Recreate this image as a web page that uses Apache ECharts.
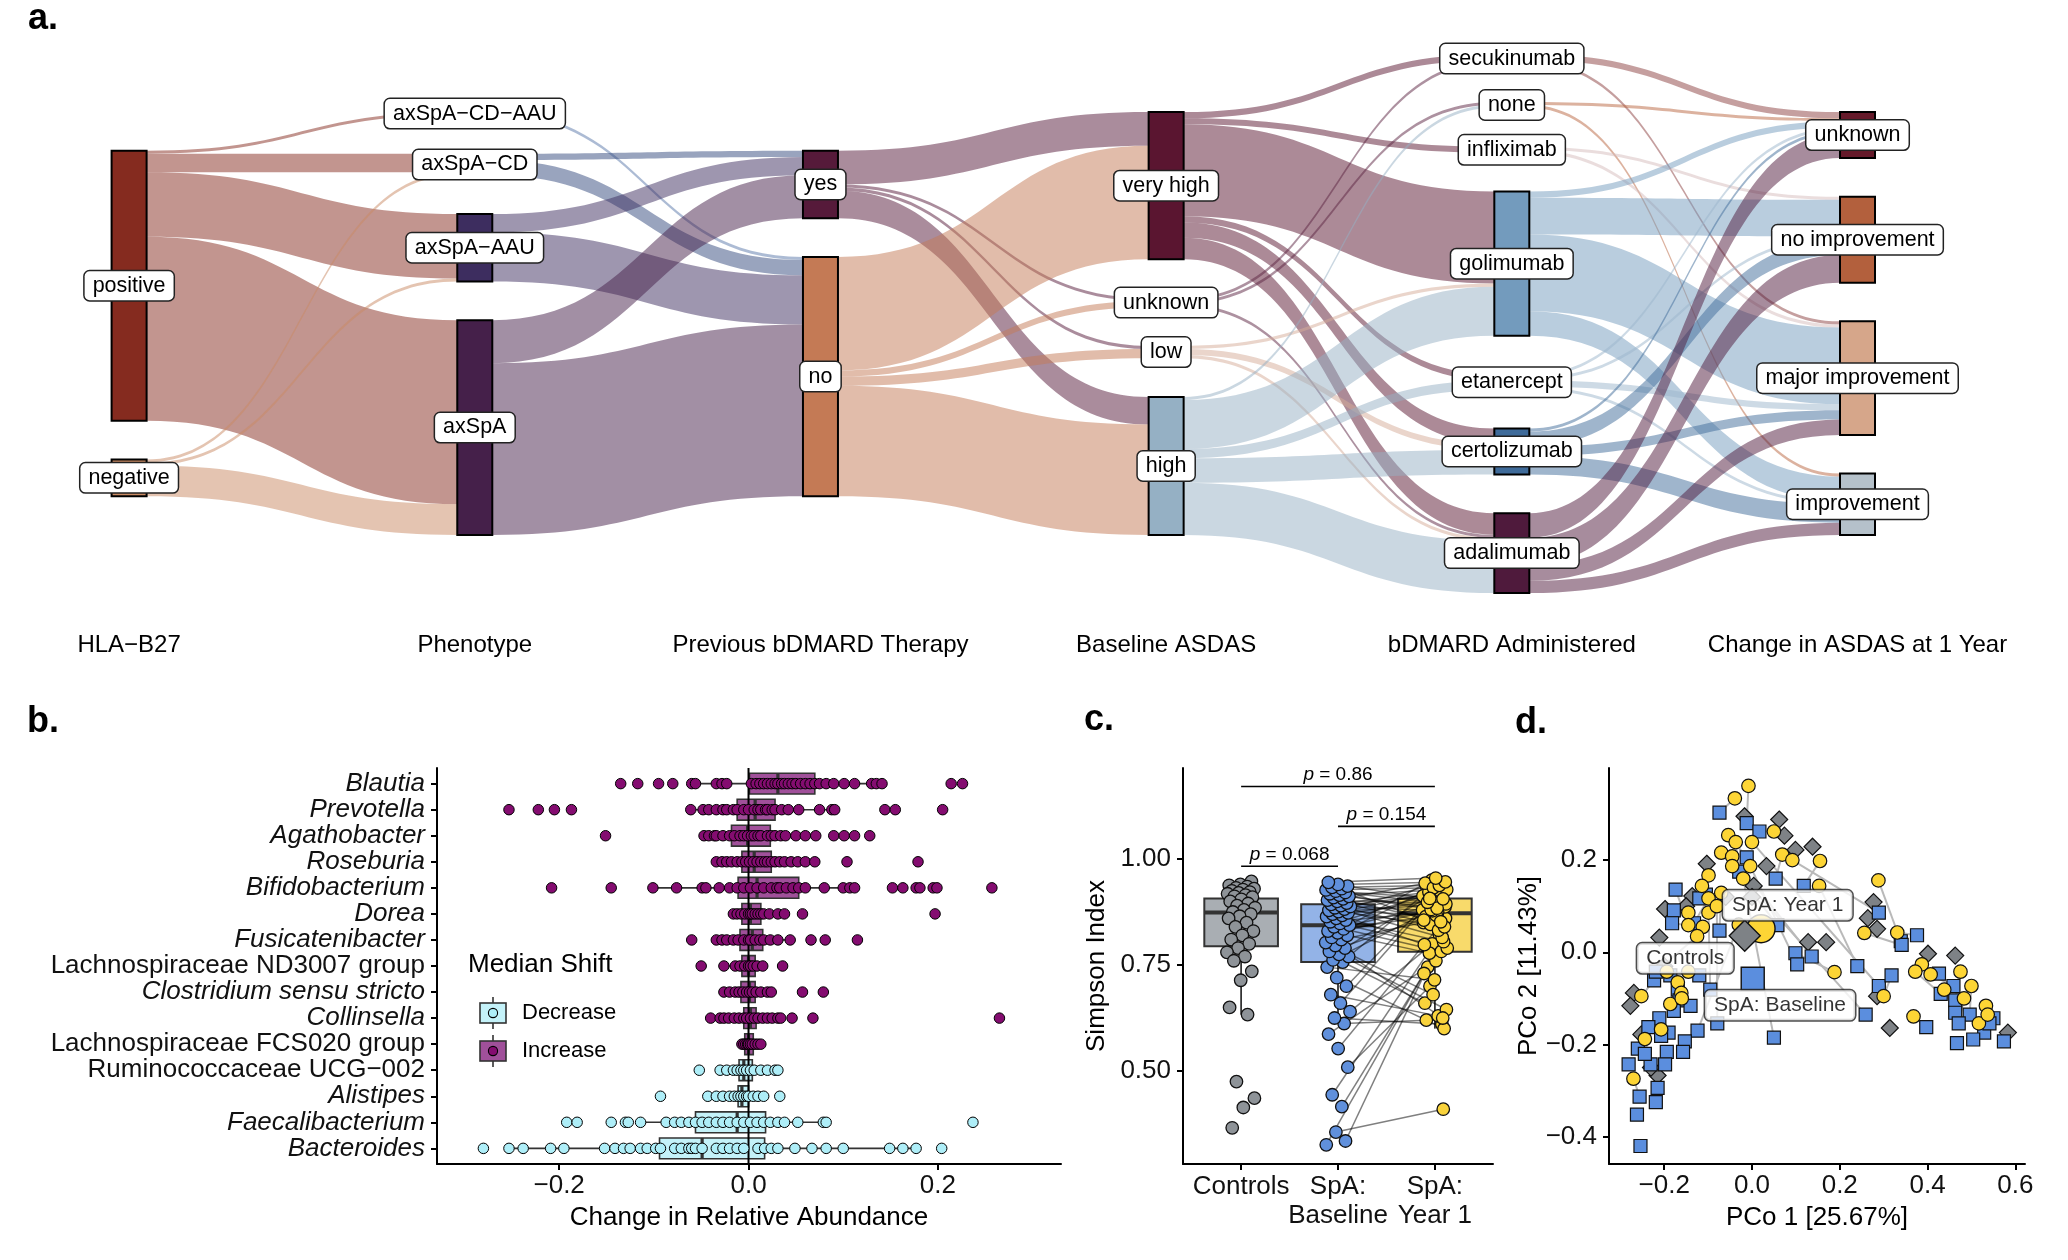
<!DOCTYPE html>
<html>
<head>
<meta charset="utf-8">
<title>Figure</title>
<script src="https://cdn.jsdelivr.net/npm/echarts@6.0.0/dist/echarts.min.js"></script>
<style>
html,body{margin:0;padding:0;background:#ffffff;}
#chart{width:2068px;height:1260px;}
</style>
</head>
<body>
<div id="chart"></div>
<script>
// ================= DATA =================
// ---- Panel a: alluvial ----
const sankeyColumnTitles = ['HLA\u2212B27','Phenotype','Previous bDMARD Therapy','Baseline ASDAS','bDMARD Administered','Change in ASDAS at 1 Year'];
const hlaB27 = ['positive','negative'];
const phenotype = ['axSpA\u2212CD\u2212AAU','axSpA\u2212CD','axSpA\u2212AAU','axSpA'];
const previousBdmard = ['yes','no'];
const baselineAsdas = ['very high','unknown','low','high'];
const bdmardAdministered = ['secukinumab','none','infliximab','golimumab','etanercept','certolizumab','adalimumab'];
const asdasChange = ['unknown','no improvement','major improvement','improvement'];

const flowsHlaToPhenotype = [
  ['positive','axSpA\u2212CD\u2212AAU',1],['positive','axSpA\u2212CD',6],['positive','axSpA\u2212AAU',21],['positive','axSpA',60],
  ['negative','axSpA\u2212CD',1],['negative','axSpA\u2212AAU',1],['negative','axSpA',10]
];
const flowsPhenotypeToPrevious = [
  ['axSpA\u2212CD\u2212AAU','no',1],['axSpA\u2212CD','yes',2],['axSpA\u2212CD','no',5],
  ['axSpA\u2212AAU','yes',6],['axSpA\u2212AAU','no',16],['axSpA','yes',14],['axSpA','no',56]
];
const flowsPreviousToBaseline = [
  ['yes','very high',11],['yes','unknown',1],['yes','low',1],['yes','high',9],
  ['no','very high',37],['no','unknown',2],['no','low',3],['no','high',36]
];
const flowsBaselineToBdmard = [
  ['very high','secukinumab',2],['very high','infliximab',2],['very high','golimumab',30],['very high','etanercept',2],['very high','certolizumab',5],['very high','adalimumab',7],
  ['unknown','secukinumab',1],['unknown','none',1],['unknown','adalimumab',1],
  ['low','golimumab',1],['low','certolizumab',2],['low','adalimumab',1],
  ['high','none',1],['high','golimumab',16],['high','etanercept',3],['high','certolizumab',8],['high','adalimumab',17]
];
const flowsBdmardToChange = [
  ['secukinumab','unknown',2],['secukinumab','major improvement',1],
  ['none','unknown',1],['none','improvement',1],
  ['infliximab','no improvement',1],['infliximab','major improvement',1],
  ['golimumab','unknown',2],['golimumab','no improvement',12],['golimumab','major improvement',25],['golimumab','improvement',8],
  ['etanercept','unknown',1],['etanercept','no improvement',1],['etanercept','major improvement',2],['etanercept','improvement',1],
  ['certolizumab','unknown',1],['certolizumab','no improvement',5],['certolizumab','major improvement',3],['certolizumab','improvement',6],
  ['adalimumab','unknown',8],['adalimumab','no improvement',9],['adalimumab','major improvement',5],['adalimumab','improvement',4]
];

// ---- Panel b: change in relative abundance ----
const taxa = ['Blautia','Prevotella','Agathobacter','Roseburia','Bifidobacterium','Dorea','Fusicatenibacter',
  'Lachnospiraceae ND3007 group','Clostridium sensu stricto','Collinsella','Lachnospiraceae FCS020 group',
  'Ruminococcaceae UCG\u2212002','Alistipes','Faecalibacterium','Bacteroides'];
const taxonIsGenus = [true,true,true,true,true,true,true,false,true,true,false,false,true,true,true];
const taxonShift = ['Increase','Increase','Increase','Increase','Increase','Increase','Increase','Increase','Increase','Increase','Increase',
  'Decrease','Decrease','Decrease','Decrease'];
// [lower whisker, Q1, median, Q3, upper whisker]
const taxonBox = [
  [-0.063, 0.001, 0.031, 0.070, 0.141],
  [-0.061, -0.012, 0.007, 0.028, 0.091],
  [-0.047, -0.018, -0.001, 0.023, 0.075],
  [-0.034, -0.007, 0.006, 0.024, 0.070],
  [-0.101, -0.011, 0.009, 0.053, 0.112],
  [-0.016, -0.007, 0.002, 0.013, 0.038],
  [-0.034, -0.009, 0.004, 0.015, 0.044],
  [-0.026, -0.007, 0.000, 0.007, 0.015],
  [-0.026, -0.008, 0.001, 0.007, 0.024],
  [-0.040, -0.005, 0.002, 0.008, 0.034],
  [-0.007, -0.004, 0.000, 0.005, 0.013],
  [-0.030, -0.010, -0.005, 0.004, 0.031],
  [-0.034, -0.011, -0.007, 0.000, 0.016],
  [-0.114, -0.056, -0.012, 0.018, 0.082],
  [-0.253, -0.094, -0.049, 0.017, 0.177]
];
const taxonChange = [
  [-0.135,-0.117,-0.095,-0.080,-0.060,-0.056,-0.034,-0.028,-0.023,0.003,0.008,0.012,0.016,0.020,0.024,0.028,0.031,0.035,0.038,0.042,0.046,0.050,0.055,0.060,0.065,0.070,0.075,0.082,0.090,0.101,0.112,0.130,0.135,0.141,0.214,0.226],
  [-0.253,-0.222,-0.205,-0.187,-0.061,-0.048,-0.042,-0.034,-0.027,-0.023,-0.016,-0.012,-0.005,0.000,0.006,0.010,0.013,0.018,0.020,0.025,0.028,0.035,0.042,0.053,0.075,0.088,0.091,0.144,0.155,0.205],
  [-0.151,-0.047,-0.042,-0.036,-0.034,-0.027,-0.020,-0.015,-0.009,-0.005,-0.001,0.003,0.006,0.010,0.013,0.020,0.024,0.028,0.034,0.039,0.050,0.060,0.071,0.090,0.101,0.112,0.128],
  [-0.034,-0.028,-0.023,-0.018,-0.012,-0.007,-0.003,0.001,0.005,0.009,0.013,0.017,0.020,0.024,0.028,0.033,0.038,0.045,0.052,0.060,0.070,0.104,0.179],
  [-0.208,-0.145,-0.101,-0.076,-0.049,-0.045,-0.031,-0.020,-0.012,-0.005,0.002,0.009,0.016,0.024,0.030,0.033,0.040,0.047,0.053,0.060,0.080,0.100,0.107,0.112,0.152,0.163,0.177,0.181,0.195,0.199,0.257],
  [-0.016,-0.012,-0.008,-0.004,0.000,0.002,0.004,0.007,0.010,0.013,0.016,0.022,0.031,0.038,0.057,0.197],
  [-0.060,-0.034,-0.028,-0.023,-0.016,-0.011,-0.005,0.000,0.002,0.007,0.012,0.016,0.023,0.031,0.044,0.066,0.081,0.115],
  [-0.050,-0.026,-0.014,-0.009,-0.004,0.000,0.002,0.005,0.009,0.015,0.036],
  [-0.026,-0.020,-0.014,-0.010,-0.006,-0.002,0.001,0.004,0.008,0.013,0.020,0.024,0.057,0.079],
  [-0.040,-0.030,-0.026,-0.021,-0.015,-0.010,-0.005,-0.002,0.002,0.006,0.010,0.015,0.020,0.025,0.031,0.034,0.046,0.068,0.265],
  [-0.007,-0.005,-0.003,-0.001,0.000,0.002,0.004,0.007,0.010,0.013],
  [-0.052,-0.030,-0.023,-0.016,-0.012,-0.008,-0.005,-0.002,0.002,0.006,0.013,0.020,0.028,0.031],
  [-0.093,-0.043,-0.034,-0.027,-0.020,-0.015,-0.011,-0.008,-0.005,-0.002,0.000,0.005,0.010,0.016,0.033],
  [-0.192,-0.181,-0.145,-0.130,-0.127,-0.114,-0.087,-0.078,-0.071,-0.063,-0.056,-0.049,-0.042,-0.034,-0.027,-0.020,-0.012,-0.005,0.002,0.009,0.016,0.023,0.031,0.038,0.052,0.079,0.082,0.237],
  [-0.280,-0.253,-0.238,-0.209,-0.195,-0.152,-0.141,-0.132,-0.125,-0.114,-0.107,-0.098,-0.093,-0.078,-0.071,-0.063,-0.060,-0.056,-0.049,-0.034,-0.027,-0.020,-0.012,-0.005,0.010,0.017,0.024,0.031,0.049,0.067,0.082,0.100,0.149,0.163,0.177,0.204]
];
const abundanceTicks = [-0.2, 0, 0.2];

// ---- Panel c: Simpson index ----
const simpsonGroups = ['Controls', 'SpA:\nBaseline', 'SpA:\nYear 1'];
const controlsBox = [0.633, 0.794, 0.874, 0.907, 0.947];
const baselineBox = [0.612, 0.757, 0.844, 0.893, 0.945];
const year1Box = [0.600, 0.781, 0.872, 0.907, 0.955];
const controlsSimpson = [0.947,0.940,0.938,0.935,0.932,0.930,0.928,0.925,0.922,0.920,0.918,0.915,0.912,0.910,0.905,0.900,0.895,0.890,0.885,0.880,0.875,0.870,0.865,0.860,0.850,0.840,0.830,0.820,0.810,0.800,0.790,0.780,0.770,0.760,0.735,0.714,0.650,0.633,0.475,0.436,0.414,0.366];
// paired: baselineSimpson[i] and year1Simpson[i] are the same patient
const baselineSimpson = [0.335,0.356,0.326,0.416,0.444,0.509,0.553,0.587,0.612,0.625,0.640,0.660,0.680,0.700,0.720,0.745,
  0.757,0.762,0.770,0.775,0.782,0.790,0.796,0.803,0.810,0.815,0.820,0.826,0.830,0.835,0.840,0.844,
  0.848,0.852,0.856,0.860,0.864,0.867,0.870,0.873,0.876,0.879,0.882,0.885,0.888,0.890,0.893,
  0.896,0.900,0.903,0.906,0.909,0.912,0.915,0.918,0.921,0.924,0.927,0.930,0.933,0.936,0.940,0.945];
const year1Simpson = [0.745,0.410,0.770,0.730,0.820,0.700,0.860,0.760,0.620,0.610,0.800,0.880,0.630,0.900,0.600,0.715,
  0.660,0.890,0.930,0.645,0.870,0.910,0.625,0.680,0.850,0.940,0.778,0.887,0.892,0.864,0.782,0.950,
  0.790,0.875,0.916,0.805,0.902,0.798,0.925,0.846,0.894,0.867,0.935,0.815,0.878,0.913,0.832,
  0.922,0.840,0.896,0.943,0.852,0.881,0.928,0.884,0.898,0.906,0.932,0.856,0.938,0.907,0.946,0.955];
const simpsonTicks = [0.5, 0.75, 1.0];
const simpsonComparisons = [[1, 3, 1.171], [2, 3, 1.077], [1, 2, 0.983]];
const simpsonPValues = ['0.86', '0.154', '0.068'];

// ---- Panel d: PCoA ----
// paired: pcoaYear1[i] and pcoaBaseline[i] are the same patient (first entries)
const pcoaYear1 = [
  [-0.008,0.361],[-0.039,0.334],[0.050,0.262],[-0.054,0.254],[-0.037,0.239],[0.000,0.239],[0.069,0.212],[0.092,0.200],
  [0.155,0.198],[0.153,0.144],[0.288,0.156],[0.256,0.042],[0.331,0.043],[0.387,-0.026],[0.372,-0.042],[0.407,-0.048],
  [0.475,-0.042],[0.500,-0.073],[0.438,-0.081],[0.483,-0.100],[0.533,-0.116],[0.517,-0.154],[0.537,-0.135],[0.188,-0.043],
  [0.300,-0.095],[0.368,-0.139],[-0.099,0.167],[-0.114,0.144],[-0.070,0.129],[-0.099,0.117],[-0.145,0.086],[-0.112,0.055],
  [-0.145,0.059],[-0.252,-0.095],[-0.244,-0.188],[-0.207,-0.167],[-0.270,-0.274],[-0.194,-0.042],[-0.169,-0.065],[-0.161,-0.088],
  [-0.186,-0.112],[-0.145,-0.042],[-0.070,0.216],[-0.045,0.208],[-0.045,0.187],[-0.004,0.187],[-0.099,0.086],[-0.125,0.035],
  [-0.160,-0.100],[-0.080,0.100],[-0.020,0.160],[-0.030,0.060]
];
const pcoaBaseline = [
  [-0.012,0.280],[-0.074,0.303],[0.017,0.262],[-0.012,0.206],[-0.029,0.175],[0.289,-0.073],[0.054,0.160],[0.289,0.086],
  [0.118,0.144],[0.240,-0.030],[0.339,0.024],[0.341,0.016],[0.376,0.037],[0.426,-0.046],[0.430,-0.090],[0.459,-0.073],
  [0.463,-0.104],[0.496,-0.135],[0.463,-0.131],[0.471,-0.154],[0.550,-0.143],[0.529,-0.174],[0.541,-0.154],[0.099,-0.002],
  [0.318,-0.050],[0.397,-0.162],[-0.105,0.125],[-0.120,0.117],[-0.074,0.047],[-0.132,0.063],[-0.178,0.091],[-0.182,0.063],
  [-0.174,0.136],[-0.223,-0.061],[-0.231,-0.243],[-0.190,-0.174],[-0.256,-0.313],[-0.186,-0.050],[-0.169,-0.081],[-0.165,-0.104],
  [-0.178,-0.127],[-0.120,-0.050],[0.058,0.059],[0.136,-0.009],[0.259,-0.135],[0.103,-0.026],[-0.095,-0.081],[-0.219,-0.042],
  [-0.140,-0.116],[-0.079,-0.154],[0.050,-0.185],[-0.124,-0.170],
  [0.467,-0.197],[0.504,-0.189],[0.574,-0.193],[-0.211,-0.143],[-0.236,-0.162],[-0.207,-0.181],[-0.153,-0.193],[-0.157,-0.216],
  [-0.260,-0.209],[-0.244,-0.220],[-0.194,-0.216],[-0.198,-0.243],[-0.281,-0.243],[-0.215,-0.294],[-0.219,-0.325],[-0.262,-0.352],
  [-0.254,-0.420]
];
const pcoaControls = [
  [-0.017,0.295],[0.062,0.288],[0.074,0.253],[0.099,0.222],[0.138,0.229],[0.033,0.187],[-0.103,0.192],[0.004,0.144],
  [-0.136,0.122],[-0.198,0.094],[-0.211,0.032],[0.277,0.109],[0.264,0.074],[0.285,0.051],[0.128,0.022],[0.169,0.022],
  [0.401,-0.003],[0.463,-0.007],[0.285,-0.095],[0.314,-0.164],[0.583,-0.174],[-0.269,-0.088],[-0.277,-0.116],[-0.252,-0.178],
  [-0.215,-0.267],[-0.060,0.120],[-0.150,0.100],[-0.200,-0.030],[-0.230,-0.250],[0.000,0.120]
];
const pcoaGroups = ['Controls','SpA: Baseline','SpA: Year 1'];
const pcoaCentroids = [[-0.0165,0.0357],[0.0017,-0.0574],[0.0207,0.0512]];
const pcoaLabelAnchors = [[-0.152,-0.013],[0.064,-0.115],[0.0814,0.102]];
const pcoaTicksX = [-0.2, 0, 0.2, 0.4, 0.6];
const pcoaTicksY = [-0.4, -0.2, 0, 0.2];

// ================= STYLE / LAYOUT =================
const FONT = '"Liberation Sans", Arial, Helvetica, sans-serif';
const sankeyColumnColors = [
  ['#852b1f','#c98a63'],
  ['#5a78aa','#34497e','#3d2d5f','#45204a'],
  ['#561a3a','#c47a55'],
  ['#5a1530','#5b2442','#d6ab97','#95b0c4'],
  ['#8c3f3f','#b9663f','#d6bcbc','#739bbd','#9cb6cc','#3f6b9a','#4f1a3c'],
  ['#651a2a','#b3603d','#d6a68a','#b5c1ca']
];
const SANKEY = {left: 111.6, top: 54, width: 1763.4, height: 539, nodeWidth: 35, gap: 38.7};
const shiftStyle = {
  Increase: {box: '#a0509a', point: '#840c70'},
  Decrease: {box: '#c4f2f9', point: '#aeeef8'}
};
const simpsonStyle = [
  {box: '#a9aeb3', point: '#8e9398'},
  {box: '#93b3e7', point: '#6090dc'},
  {box: '#f8da6b', point: '#f9d33c'}
];
const pcoaStyle = [
  {symbol: 'diamond', color: '#7e8286', size: 17, big: 31},
  {symbol: 'rect', color: '#5b8ede', size: 13, big: 23},
  {symbol: 'circle', color: '#fdd535', size: 13.5, big: 28}
];
const B_Y = [-0.6, 14.6];
const C_Y = [0.2807, 1.2146];

// ================= BUILD SANKEY =================
const sankeyColumns = [hlaB27, phenotype, previousBdmard, baselineAsdas, bdmardAdministered, asdasChange];
const sankeyFlows = [flowsHlaToPhenotype, flowsPhenotypeToPrevious, flowsPreviousToBaseline, flowsBaselineToBdmard, flowsBdmardToChange];
const nodeId = (c, n) => c + '|' + n;
const inSum = {}, outSum = {};
const sankeyLinks = [];
sankeyFlows.forEach((flows, c) => flows.forEach(([s, t, v]) => {
  const a = nodeId(c, s), b = nodeId(c + 1, t);
  outSum[a] = (outSum[a] || 0) + v;
  inSum[b] = (inSum[b] || 0) + v;
  sankeyLinks.push({source: a, target: b, value: v});
}));
const nodeVal = id => Math.max(inSum[id] || 0, outSum[id] || 0);
let ky = Infinity;
sankeyColumns.forEach((col, c) => {
  const sum = col.reduce((acc, n) => acc + nodeVal(nodeId(c, n)), 0);
  ky = Math.min(ky, (SANKEY.height - (col.length - 1) * SANKEY.gap) / sum);
});
const sankeyNodes = [];
sankeyColumns.forEach((col, c) => {
  const total = col.reduce((acc, n) => acc + nodeVal(nodeId(c, n)) * ky, 0) + (col.length - 1) * SANKEY.gap;
  let y = (SANKEY.height - total) / 2;
  col.forEach((n, i) => {
    const id = nodeId(c, n);
    sankeyNodes.push({name: id, localY: y / SANKEY.height, itemStyle: {color: sankeyColumnColors[c][i]}});
    y += nodeVal(id) * ky + SANKEY.gap;
  });
});

// ================= HELPERS =================
const fmtMinus = (v, d) => (Math.abs(v) < 1e-9 ? (0).toFixed(d) : v.toFixed(d)).replace('-', '\u2212');
function jitterOffset(i, seed, halfWidth) {
  const f = ((i + seed) * 0.6180339887) % 1;
  return (f - 0.5) * 2 * halfWidth;
}
function boxRenderer(horizontal, widthFrac, fills) {
  return function (params, api) {
    const pos = api.value(0);
    const s = [1, 2, 3, 4, 5].map(k => api.value(k));
    const fill = fills[params.dataIndex % fills.length];
    const stroke = '#333';
    if (horizontal) {
      const half = api.size([0, 1])[1] * widthFrac / 2;
      const p = s.map(v => api.coord([v, pos]));
      const yc = p[0][1];
      return {type: 'group', children: [
        {type: 'line', shape: {x1: p[0][0], y1: yc, x2: p[1][0], y2: yc}, style: {stroke, lineWidth: 1.6}},
        {type: 'line', shape: {x1: p[3][0], y1: yc, x2: p[4][0], y2: yc}, style: {stroke, lineWidth: 1.6}},
        {type: 'rect', shape: {x: p[1][0], y: yc - half, width: p[3][0] - p[1][0], height: 2 * half}, style: {fill, stroke, lineWidth: 1.6}},
        {type: 'line', shape: {x1: p[2][0], y1: yc - half, x2: p[2][0], y2: yc + half}, style: {stroke, lineWidth: 3.2}}
      ]};
    }
    const half = api.size([1, 0])[0] * widthFrac / 2;
    const p = s.map(v => api.coord([pos, v]));
    const xc = p[0][0];
    return {type: 'group', children: [
      {type: 'line', shape: {x1: xc, y1: p[0][1], x2: xc, y2: p[1][1]}, style: {stroke, lineWidth: 1.8}},
      {type: 'line', shape: {x1: xc, y1: p[3][1], x2: xc, y2: p[4][1]}, style: {stroke, lineWidth: 1.8}},
      {type: 'rect', shape: {x: xc - half, y: p[3][1], width: 2 * half, height: p[1][1] - p[3][1]}, style: {fill, stroke, lineWidth: 2}},
      {type: 'line', shape: {x1: xc - half, y1: p[2][1], x2: xc + half, y2: p[2][1]}, style: {stroke, lineWidth: 4}}
    ]};
  };
}
function segmentRenderer(color, width) {
  return function (params, api) {
    const a = api.coord([api.value(0), api.value(1)]);
    const b = api.coord([api.value(2), api.value(3)]);
    return {type: 'line', shape: {x1: a[0], y1: a[1], x2: b[0], y2: b[1]}, style: {stroke: color, lineWidth: width}};
  };
}
function legendKey(boxFill, pointFill) {
  const svg = '<svg xmlns="http://www.w3.org/2000/svg" width="28" height="32" viewBox="0 0 28 32">' +
    '<line x1="14" y1="0" x2="14" y2="32" stroke="#333" stroke-width="1.6"/>' +
    '<rect x="1" y="6" width="26" height="20" fill="' + boxFill + '" stroke="#333" stroke-width="1.6"/>' +
    '<circle cx="14" cy="16" r="4.6" fill="' + pointFill + '" stroke="#000" stroke-width="1.1"/></svg>';
  return 'image://data:image/svg+xml;charset=utf-8,' + encodeURIComponent(svg);
}
const axisLine = {show: true, onZero: false, lineStyle: {color: '#000', width: 2}};
const axisTick = (vals) => ({show: true, length: 6, customValues: vals, lineStyle: {color: '#000', width: 2}});
const labelBase = {color: '#111', fontSize: 26, fontFamily: FONT, hideOverlap: false, showMinLabel: true, showMaxLabel: true};
const nameStyle = {fontSize: 26, color: '#000', fontFamily: FONT};

// ================= SERIES =================
const series = [];
series.push({
  type: 'sankey',
  left: SANKEY.left, top: SANKEY.top, width: SANKEY.width, height: SANKEY.height,
  nodeWidth: SANKEY.nodeWidth, nodeGap: SANKEY.gap, layoutIterations: 0, draggable: false,
  emphasis: {disabled: true},
  data: sankeyNodes, links: sankeyLinks,
  itemStyle: {borderColor: '#000', borderWidth: 2},
  lineStyle: {color: 'source', opacity: 0.5, curveness: 0.5},
  label: {
    show: true, position: 'inside', formatter: p => p.name.split('|')[1],
    color: '#000', fontSize: 21.5, fontFamily: FONT,
    backgroundColor: '#fff', borderColor: '#222', borderWidth: 1.5, borderRadius: 5, padding: [4, 8, 3, 8]
  }
});

// panel b
['Decrease', 'Increase'].forEach(shift => {
  series.push({
    type: 'custom', name: shift, xAxisIndex: 0, yAxisIndex: 0, silent: true,
    itemStyle: {color: shiftStyle[shift].box},
    encode: {x: [1, 2, 3, 4, 5], y: 0},
    data: taxa.map((t, i) => taxonShift[i] === shift ? [i].concat(taxonBox[i]) : null).filter(Boolean),
    renderItem: boxRenderer(true, 0.8, [shiftStyle[shift].box])
  });
});
series.push({
  type: 'custom', xAxisIndex: 0, yAxisIndex: 0, silent: true, data: [[0]], encode: {x: 0},
  renderItem: (params, api) => {
    const a = api.coord([0, B_Y[0]]), b = api.coord([0, B_Y[1]]);
    return {type: 'line', shape: {x1: a[0], y1: a[1], x2: b[0], y2: b[1]}, style: {stroke: '#000', lineWidth: 2}};
  }
});
['Decrease', 'Increase'].forEach(shift => {
  const pts = [];
  taxa.forEach((t, i) => { if (taxonShift[i] === shift) taxonChange[i].forEach(v => pts.push([v, i])); });
  series.push({
    type: 'scatter', name: shift, xAxisIndex: 0, yAxisIndex: 0, silent: true,
    symbolSize: 10.5, data: pts,
    itemStyle: {color: shiftStyle[shift].point, borderColor: '#000', borderWidth: 1, opacity: 1}
  });
});

// panel c
const ctrlX = controlsSimpson.map((v, i) => 1 + jitterOffset(i, 3, 0.15));
const baseX = baselineSimpson.map((v, i) => 2 + jitterOffset(i, 11, 0.13));
const yr1X = year1Simpson.map((v, i) => 3 + jitterOffset(i, 23, 0.13));
series.push({
  type: 'custom', xAxisIndex: 1, yAxisIndex: 1, silent: true,
  encode: {x: 0, y: [1, 2, 3, 4, 5]},
  data: [[1].concat(controlsBox), [2].concat(baselineBox), [3].concat(year1Box)],
  renderItem: boxRenderer(false, 0.76, simpsonStyle.map(s => s.box))
});
series.push({
  type: 'custom', xAxisIndex: 1, yAxisIndex: 1, silent: true,
  encode: {x: [0, 2], y: [1, 3]},
  data: baselineSimpson.map((b, i) => [baseX[i], b, yr1X[i], year1Simpson[i]]),
  renderItem: segmentRenderer('rgba(0,0,0,0.5)', 1.5)
});
[[ctrlX, controlsSimpson], [baseX, baselineSimpson], [yr1X, year1Simpson]].forEach(([xs, vals], g) => {
  series.push({
    type: 'scatter', xAxisIndex: 1, yAxisIndex: 1, silent: true, symbolSize: 12.5,
    data: vals.map((v, i) => [xs[i], v]),
    itemStyle: {color: simpsonStyle[g].point, borderColor: '#111', borderWidth: 1.3, opacity: 1}
  });
});
series.push({
  type: 'custom', xAxisIndex: 1, yAxisIndex: 1, silent: true,
  encode: {x: [0, 1], y: 2},
  data: simpsonComparisons,
  renderItem: (params, api) => {
    const a = api.coord([api.value(0), api.value(2)]);
    const b = api.coord([api.value(1), api.value(2)]);
    const txt = '{i|p} = ' + simpsonPValues[params.dataIndex];
    return {type: 'group', children: [
      {type: 'line', shape: {x1: a[0], y1: a[1], x2: b[0], y2: b[1]}, style: {stroke: '#000', lineWidth: 1.6}},
      {type: 'text', x: (a[0] + b[0]) / 2, y: a[1] - 2, style: {
        text: txt, fill: '#000', fontSize: 19, fontFamily: FONT,
        align: 'center', verticalAlign: 'bottom', textAlign: 'center', textVerticalAlign: 'bottom',
        rich: {i: {fontStyle: 'italic', fontSize: 19, fontFamily: FONT, fill: '#000'}}
      }}
    ]};
  }
});
// panel c group labels under the axis (drawn through the axis scale)
series.push({
  type: 'custom', xAxisIndex: 1, yAxisIndex: 1, silent: true, clip: false,
  encode: {x: 0},
  data: simpsonGroups.map((g, i) => [i + 1]),
  renderItem: (params, api) => {
    const p = api.coord([api.value(0), C_Y[0]]);
    return {type: 'text', x: p[0], y: p[1] + 9, style: {
      text: simpsonGroups[params.dataIndex], fill: '#111', fontSize: 26, fontFamily: FONT, lineHeight: 28.5,
      align: 'center', verticalAlign: 'top', textAlign: 'center', textVerticalAlign: 'top'
    }};
  }
});

// panel d
series.push({
  type: 'custom', xAxisIndex: 2, yAxisIndex: 2, silent: true,
  encode: {x: [0, 2], y: [1, 3]},
  data: pcoaYear1.map((p, i) => [pcoaBaseline[i][0], pcoaBaseline[i][1], p[0], p[1]]),
  renderItem: segmentRenderer('#b9b9b9', 2)
});
[pcoaControls, pcoaBaseline, pcoaYear1].forEach((pts, g) => {
  series.push({
    type: 'scatter', xAxisIndex: 2, yAxisIndex: 2, silent: true,
    symbol: pcoaStyle[g].symbol, symbolSize: pcoaStyle[g].size,
    data: pts,
    itemStyle: {color: pcoaStyle[g].color, borderColor: '#111', borderWidth: 1.2, opacity: 1}
  });
});
[2, 0, 1].forEach(g => {
  series.push({
    type: 'scatter', xAxisIndex: 2, yAxisIndex: 2, silent: true,
    symbol: pcoaStyle[g].symbol, symbolSize: pcoaStyle[g].big,
    data: [pcoaCentroids[g]],
    itemStyle: {color: pcoaStyle[g].color, borderColor: '#111', borderWidth: 1.4, opacity: 1}
  });
});
series.push({
  type: 'scatter', xAxisIndex: 2, yAxisIndex: 2, silent: true,
  symbol: 'circle', symbolSize: 0.1,
  itemStyle: {color: 'rgba(0,0,0,0)'},
  data: pcoaLabelAnchors.map((p, g) => ({value: p, name: pcoaGroups[g]})),
  label: {
    show: true, position: 'inside', formatter: p => p.name,
    color: '#000', fontSize: 21, fontFamily: FONT,
    backgroundColor: '#fff', borderColor: '#222', borderWidth: 1.5, borderRadius: 5, padding: [5, 9, 4, 9]
  }
});

// ================= GRAPHIC TEXT =================
const graphic = [];
const panelLetter = (t, x, y) => ({type: 'text', x, y, style: {text: t, fill: '#000', font: 'bold 36px ' + FONT,
  align: 'left', verticalAlign: 'middle', textAlign: 'left', textVerticalAlign: 'middle'}});
graphic.push(panelLetter('a.', 28, 19), panelLetter('b.', 27, 722), panelLetter('c.', 1084, 720), panelLetter('d.', 1515, 723));
const colStep = (SANKEY.width - SANKEY.nodeWidth) / (sankeyColumnTitles.length - 1);
sankeyColumnTitles.forEach((t, i) => {
  graphic.push({type: 'text', x: SANKEY.left + SANKEY.nodeWidth / 2 + i * colStep, y: 645,
    style: {text: t, fill: '#000', font: '24px ' + FONT, align: 'center', verticalAlign: 'middle', textAlign: 'center', textVerticalAlign: 'middle'}});
});
graphic.push({type: 'text', x: 468, y: 965, style: {text: 'Median Shift', fill: '#000', font: '26px ' + FONT,
  align: 'left', verticalAlign: 'middle', textAlign: 'left', textVerticalAlign: 'middle'}});

// ================= OPTION =================
const option = {
  animation: false,
  backgroundColor: '#ffffff',
  textStyle: {fontFamily: FONT},
  graphic: graphic,
  legend: {
    show: true, selectedMode: false, orient: 'vertical', left: 474, top: 992,
    itemWidth: 28, itemHeight: 32, itemGap: 6,
    textStyle: {fontSize: 22, color: '#000', fontFamily: FONT, padding: [0, 0, 0, 10]},
    data: [
      {name: 'Decrease', icon: legendKey(shiftStyle.Decrease.box, shiftStyle.Decrease.point)},
      {name: 'Increase', icon: legendKey(shiftStyle.Increase.box, shiftStyle.Increase.point)}
    ]
  },
  grid: [
    {left: 437, top: 768, width: 624, height: 396},
    {left: 1183, top: 768, width: 310, height: 396},
    {left: 1609, top: 768, width: 416, height: 396}
  ],
  xAxis: [
    {gridIndex: 0, type: 'value', min: -0.329, max: 0.330, splitLine: {show: false},
      name: 'Change in Relative Abundance', nameLocation: 'middle', nameGap: 41, nameTextStyle: nameStyle,
      axisLine, axisTick: axisTick(abundanceTicks),
      axisLabel: Object.assign({}, labelBase, {margin: 9, customValues: abundanceTicks, formatter: v => fmtMinus(v, 1)})},
    {gridIndex: 1, type: 'value', min: 0.4, max: 3.6, splitLine: {show: false},
      axisLine, axisTick: axisTick([1, 2, 3]),
      axisLabel: {show: false}},
    {gridIndex: 2, type: 'value', min: -0.3257, max: 0.622, splitLine: {show: false},
      name: 'PCo 1 [25.67%]', nameLocation: 'middle', nameGap: 41, nameTextStyle: nameStyle,
      axisLine, axisTick: axisTick(pcoaTicksX),
      axisLabel: Object.assign({}, labelBase, {margin: 9, customValues: pcoaTicksX, formatter: v => fmtMinus(v, 1)})}
  ],
  yAxis: [
    {gridIndex: 0, type: 'value', inverse: true, min: B_Y[0], max: B_Y[1], splitLine: {show: false},
      axisLine, axisTick: axisTick(taxa.map((t, i) => i)),
      axisLabel: {margin: 12, hideOverlap: false, customValues: taxa.map((t, i) => i),
        formatter: v => { const i = Math.round(v); return (taxonIsGenus[i] ? '{g|' : '{f|') + taxa[i] + '}'; },
        rich: {g: {fontStyle: 'italic', fontSize: 26, fontFamily: FONT, color: '#111'}, f: {fontSize: 26, fontFamily: FONT, color: '#111'}}}},
    {gridIndex: 1, type: 'value', min: C_Y[0], max: C_Y[1], splitLine: {show: false},
      name: 'Simpson Index', nameLocation: 'middle', nameGap: 73, nameTextStyle: nameStyle,
      axisLine, axisTick: axisTick(simpsonTicks),
      axisLabel: Object.assign({}, labelBase, {margin: 12, customValues: simpsonTicks, formatter: v => v.toFixed(2)})},
    {gridIndex: 2, type: 'value', min: -0.459, max: 0.3997, splitLine: {show: false},
      name: 'PCo 2 [11.43%]', nameLocation: 'middle', nameGap: 65, nameTextStyle: nameStyle,
      axisLine, axisTick: axisTick(pcoaTicksY),
      axisLabel: Object.assign({}, labelBase, {margin: 12, customValues: pcoaTicksY, formatter: v => fmtMinus(v, 1)})}
  ],
  series: series
};

const chart = echarts.init(document.getElementById('chart'), null, {renderer: 'canvas'});
chart.setOption(option);
</script>
</body>
</html>
